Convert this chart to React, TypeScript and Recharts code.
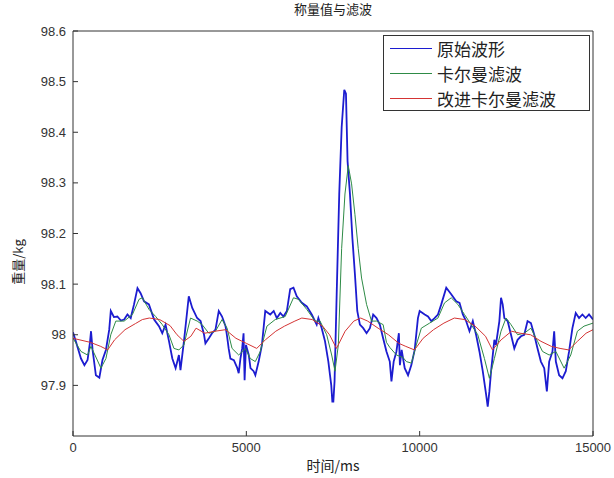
import React from "react";
import { LineChart, Line, XAxis, YAxis, Legend } from "recharts";

// time axis (ms) and weight (kg)
const rawTime = [
  0, 90, 230, 330, 420, 490, 520, 565, 660, 760, 850, 950, 1045, 1090, 1180, 1280, 1380, 1475, 1570, 1665,
  1760, 1860, 1950, 2050, 2190, 2340, 2480, 2575, 2670, 2770, 2865, 2960, 3055, 3100, 3200, 3340, 3440, 3580,
  3680, 3780, 3820, 3920, 4010, 4110, 4205, 4300, 4400, 4445, 4490, 4540, 4640, 4740, 4780, 4830, 4880, 4920,
  4950, 4990, 5070, 5120, 5210, 5260, 5355, 5450, 5546, 5690, 5790, 5880, 5980, 6070, 6170, 6265, 6360, 6455,
  6600, 6744, 6887, 7030, 7078, 7174, 7222, 7270, 7366, 7414, 7450, 7481, 7510, 7545, 7606, 7680, 7750, 7825,
  7874, 7920, 7989, 8060, 8132, 8200, 8276, 8372, 8468, 8564, 8659, 8755, 8851, 8946, 9042, 9138, 9186, 9250,
  9330, 9400, 9430, 9480, 9569, 9665, 9760, 9856, 9950, 10000, 10145, 10240, 10336, 10430, 10527, 10623, 10767,
  10910, 11055, 11150, 11245, 11340, 11437, 11533, 11628, 11724, 11820, 11916, 11963, 12011, 12060, 12155,
  12200, 12299, 12347, 12395, 12443, 12538, 12635, 12730, 12825, 12921, 13017, 13112, 13209, 13305, 13400,
  13497, 13593, 13669, 13736, 13831, 13880, 13928, 14023, 14119, 14215, 14310, 14406, 14502, 14598, 14694,
  14789, 14885, 15000,
];
const rawWeight = [
  98.005, 97.985, 97.953, 97.94, 97.95, 97.985, 98.007, 97.97, 97.92, 97.915, 97.95, 97.97, 98.01, 98.047, 98.035,
  98.036, 98.028, 98.03, 98.04, 98.033, 98.06, 98.092, 98.082, 98.066, 98.06, 98.03, 98.017, 98.003, 98.02, 97.987,
  97.953, 97.934, 97.96, 97.93, 97.987, 98.076, 98.053, 98.033, 98.027, 98.0, 97.983, 97.993, 98.003, 98.01, 98.047,
  98.036, 98.017, 97.997, 97.973, 97.953, 97.95, 97.934, 97.924, 97.953, 97.973, 98.003, 97.91, 97.98, 97.96, 97.934,
  97.928, 97.92, 97.947, 97.98, 98.047, 98.04, 98.047, 98.033, 98.043, 98.036, 98.047, 98.09, 98.093, 98.076, 98.063,
  98.056, 98.04, 98.02, 98.033, 98.013, 98.0, 97.987, 97.947, 97.92, 97.9, 97.868, 97.868, 97.908, 98.08, 98.278,
  98.41, 98.484, 98.476, 98.343, 98.278, 98.19, 98.12, 98.047, 98.02, 98.013, 98.003, 98.013, 98.04, 98.033, 98.02,
  97.993, 97.967, 97.947, 97.908, 97.947, 97.967, 98.003, 97.94, 97.97, 97.934, 97.92, 97.94, 97.97, 98.033, 98.047,
  98.04, 98.036, 98.027, 98.033, 98.04, 98.06, 98.093, 98.08, 98.066, 98.063, 98.04, 98.027, 98.007, 98.027, 98.0,
  97.967, 97.928, 97.882, 97.858, 97.888, 97.928, 97.99, 97.98, 98.027, 98.073, 98.06, 98.033, 98.027, 98.0, 97.973,
  97.99, 97.997, 98.0, 98.027, 98.023, 98.0, 97.973, 97.947, 97.934, 97.888, 97.947, 97.967, 98.007, 97.947, 97.92,
  97.914, 97.928, 97.967, 98.013, 98.043, 98.033, 98.04, 98.033, 98.04, 98.03,
];

const kalmanTime = [
  0, 230, 420, 517, 700, 805, 950, 1090, 1235, 1475, 1715, 1905, 2000, 2193, 2385, 2576, 2768, 2912, 3055, 3199,
  3390, 3583, 3726, 3917, 4109, 4300, 4445, 4588, 4780, 4971, 5115, 5259, 5402, 5594, 5833, 6121, 6360, 6504, 6744,
  6983, 7126, 7318, 7462, 7558, 7654, 7749, 7845, 7940, 8036, 8132, 8228, 8324, 8468, 8611, 8755, 8946, 9042, 9138,
  9330, 9521, 9617, 9761, 9904, 10048, 10287, 10527, 10718, 10910, 11101, 11293, 11485, 11676, 11868, 12011, 12155,
  12347, 12491, 12635, 12825, 13017, 13209, 13400, 13544, 13736, 13928, 14167, 14359, 14550, 14741, 15000,
];
const kalmanWeight = [
  97.993, 97.967, 97.96, 97.977, 97.95, 97.934, 97.953, 98.0, 98.027, 98.027, 98.04, 98.07, 98.073, 98.05, 98.036,
  98.02, 98.0, 97.973, 97.97, 97.98, 98.033, 98.027, 98.02, 98.003, 98.007, 98.03, 98.013, 97.973, 97.96, 97.973,
  97.953, 97.947, 97.967, 98.017, 98.03, 98.036, 98.073, 98.07, 98.05, 98.027, 98.027, 98.0, 97.96, 97.928, 97.98,
  98.17, 98.278, 98.334, 98.298, 98.238, 98.17, 98.112, 98.06, 98.027, 98.027, 98.02, 97.985, 97.975, 97.96, 97.955,
  97.947, 97.944, 97.98, 98.013, 98.023, 98.033, 98.063, 98.073, 98.06, 98.04, 98.02, 98.0, 97.953, 97.914, 97.953,
  98.007, 98.033, 98.02, 98.0, 98.003, 98.013, 97.987, 97.967, 97.96, 97.967, 97.934, 97.96, 98.007, 98.017, 98.023,
];

const improvedTime = [
  0, 500, 800, 1000, 1200, 1500, 1800, 2000, 2200, 2500, 2800, 3000, 3200, 3400, 3550, 3800, 4100, 4400, 4700, 5000,
  5300, 5550, 5850, 6100, 6400, 6600, 6900, 7200, 7400, 7600, 7850, 8100, 8300, 8500, 8800, 9100, 9400, 9600, 9850,
  10100, 10400, 10700, 11000, 11300, 11600, 11900, 12100, 12350, 12650, 12900, 13200, 13500, 13800, 14050, 14300,
  14550, 14800, 15000,
];
const improvedWeight = [
  97.993, 97.985, 97.977, 97.97, 97.99, 98.01, 98.022, 98.03, 98.033, 98.03, 98.018, 98.0, 97.987, 97.997, 98.013,
  98.003, 98.007, 98.01, 97.993, 97.983, 97.973, 97.99, 98.007, 98.017, 98.027, 98.033, 98.03, 98.017, 98.0, 97.973,
  98.007, 98.027, 98.033, 98.027, 98.013, 98.0, 97.983, 97.977, 97.97, 97.993, 98.01, 98.023, 98.033, 98.03, 98.017,
  97.997, 97.97, 97.99, 98.007, 98.003, 98.0, 97.987, 97.977, 97.973, 97.97, 97.987, 98.003, 98.01,
];

const xTicks = [0, 5000, 10000, 15000];
const yTicks = [97.9, 98, 98.1, 98.2, 98.3, 98.4, 98.5, 98.6];
const seriesNames = ["原始波形", "卡尔曼滤波", "改进卡尔曼滤波"];

const toPoints = (ts: number[], vs: number[]) => ts.map((t, i) => ({ t, v: vs[i] }));

const series = [
  { name: seriesNames[0], color: "#1c1cd0", width: 1.8, data: toPoints(rawTime, rawWeight) },
  { name: seriesNames[1], color: "#2e8b46", width: 1, data: toPoints(kalmanTime, kalmanWeight) },
  { name: seriesNames[2], color: "#d43434", width: 1, data: toPoints(improvedTime, improvedWeight) },
];

const tickFont = { fill: "#333", fontSize: 13, fontFamily: "'Liberation Sans', Arial, sans-serif" };
const cjk = "'Noto Sans CJK SC', sans-serif";

// legend drawn in plot order, MATLAB style box
function LegendBox() {
  return (
    <div style={{ width: 207, height: 76, border: "1px solid #333", background: "#fff", boxSizing: "border-box", paddingLeft: 6 }}>
      {series.map((s) => (
        <div key={s.name} style={{ display: "flex", alignItems: "center", height: 25 }}>
          <span style={{ width: 42, borderTop: `1px solid ${s.color}`, marginRight: 5 }} />
          <span style={{ fontFamily: cjk, fontSize: 17, lineHeight: "20px", color: "#222" }}>{s.name}</span>
        </div>
      ))}
    </div>
  );
}

export default function App() {
  return (
    <div style={{ position: "absolute", left: 0, top: 0, width: 614, height: 478, background: "#fff", overflow: "hidden" }}>
      <LineChart width={614} height={478} margin={{ top: 30, right: 0, bottom: 0, left: 0 }}>
        <XAxis
          type="number"
          dataKey="t"
          domain={[0, 15000]}
          ticks={xTicks}
          interval={0}
          allowDataOverflow
          height={42}
          tickSize={-5}
          tickMargin={12}
          stroke="#333"
          tick={tickFont}
        />
        <XAxis xAxisId="top" orientation="top" type="number" domain={[0, 15000]} ticks={xTicks} interval={0}
          height={1} tickSize={-5} tick={false} stroke="#333" />
        <YAxis
          type="number"
          domain={[97.8, 98.6]}
          ticks={yTicks}
          interval={0}
          allowDataOverflow
          width={73}
          tickSize={-5}
          tickMargin={12}
          stroke="#333"
          tick={tickFont}
          tickFormatter={(v: number) => String(Number(v.toFixed(1)))}
        />
        <YAxis yAxisId="right" orientation="right" type="number" domain={[97.8, 98.6]} ticks={yTicks} interval={0}
          width={21} tickSize={-5} tick={false} stroke="#333" />
        <Legend
          content={<LegendBox />}
          layout="horizontal"
          verticalAlign="middle"
          align="center"
          wrapperStyle={{ top: 35, left: 383, width: 207, height: 76 }}
        />
        {series.map((s) => (
          <Line
            key={s.name}
            name={s.name}
            data={s.data}
            dataKey="v"
            type="linear"
            stroke={s.color}
            strokeWidth={s.width}
            dot={false}
            activeDot={false}
            isAnimationActive={false}
          />
        ))}
      </LineChart>
      <div style={{ position: "absolute", top: 1, left: 233, width: 200, textAlign: "center", fontFamily: cjk, fontSize: 13, lineHeight: "15px", color: "#222" }}>
        称量值与滤波
      </div>
      <div style={{ position: "absolute", top: 456, left: 283, width: 100, textAlign: "center", fontFamily: cjk, fontSize: 14, lineHeight: "18px", color: "#222" }}>
        时间/ms
      </div>
      <div style={{ position: "absolute", top: 253, left: -32, width: 100, textAlign: "center", fontFamily: cjk, fontSize: 13, lineHeight: "18px", color: "#222", transform: "rotate(-90deg)" }}>
        重量/kg
      </div>
    </div>
  );
}
